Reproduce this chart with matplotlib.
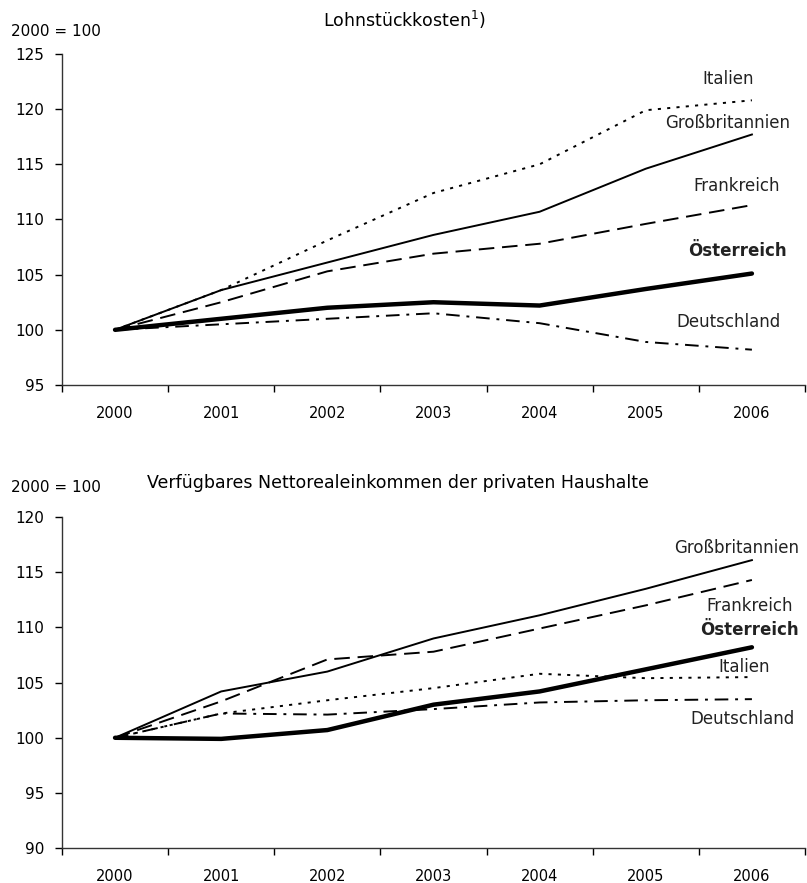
import numpy as np
import matplotlib.pyplot as plt
from matplotlib.ticker import FixedLocator, NullFormatter

plt.rcParams['font.family'] = ['DejaVu Sans']

###########Daten##############

yearList = ['2000', '2001', '2002', '2003', '2004', '2005', '2006']

# Lohnstückkosten, 2000 = 100
lohnItalien = [100, 103.6, 108.1, 112.4, 115.0, 119.9, 120.8]
lohnGB = [100, 103.6, 106.1, 108.6, 110.7, 114.6, 117.7]
lohnFrankreich = [100, 102.5, 105.3, 106.9, 107.8, 109.6, 111.3]
lohnOesterreich = [100, 101.0, 102.0, 102.5, 102.2, 103.7, 105.1]
lohnDeutschland = [100, 100.5, 101.0, 101.5, 100.6, 98.9, 98.2]

# Verfügbares Nettorealeinkommen, 2000 = 100
einkGB = [100, 104.2, 106.0, 109.0, 111.1, 113.5, 116.1]
einkFrankreich = [100, 103.3, 107.1, 107.8, 109.9, 112.0, 114.3]
einkOesterreich = [100, 99.9, 100.7, 103.0, 104.2, 106.2, 108.2]
einkItalien = [100, 102.2, 103.4, 104.5, 105.8, 105.4, 105.5]
einkDeutschland = [100, 102.2, 102.1, 102.6, 103.2, 103.4, 103.5]

###########Linienstile##############

styleDict = {
    'Italien': dict(lw=1.4, dashes=(1.6, 3.2)),
    'Großbritannien': dict(lw=1.4),
    'Frankreich': dict(lw=1.4, dashes=(8, 4)),
    'Österreich': dict(lw=3.2, solid_capstyle='round'),
    'Deutschland': dict(lw=1.4, dashes=(7, 3.5, 1.5, 3.5)),
}

def drawPanel(ax, seriesDict, labelPos, yMin, yMax):
    x = np.arange(len(yearList))
    for name, values in seriesDict.items():
        ax.plot(x, values, color='black', **styleDict[name])
    for name, (lx, ly) in labelPos.items():
        weight = 'bold' if name == 'Österreich' else 'normal'
        ax.text(lx, ly, name, ha='center', va='center', fontsize=12,
                fontweight=weight, color='#222222')
    ax.set_xlim(-0.5, len(yearList) - 0.5)
    ax.set_ylim(yMin, yMax)
    ax.set_yticks(np.arange(yMin, yMax + 1, 5))
    # ticks between the years, labels centred on the years
    ax.xaxis.set_major_locator(FixedLocator(np.arange(-0.5, len(yearList), 1)))
    ax.xaxis.set_major_formatter(NullFormatter())
    ax.xaxis.set_minor_locator(FixedLocator(x))
    ax.set_xticklabels(yearList, minor=True)
    ax.tick_params(axis='x', which='major', length=5, width=1, direction='out')
    ax.tick_params(axis='x', which='minor', length=0, pad=15, labelsize=10.5)
    ax.tick_params(axis='y', length=5, width=1, direction='out', pad=8,
                   labelsize=11)
    for side in ['top', 'right']:
        ax.spines[side].set_visible(False)
    for side in ['left', 'bottom']:
        ax.spines[side].set_linewidth(1)
        ax.spines[side].set_color('#333333')


fig = plt.figure(figsize=(8.07, 8.83), dpi=100)

axTop = fig.add_axes([0.0768, 0.564, 0.9207, 0.3749])
drawPanel(axTop,
          {'Italien': lohnItalien, 'Großbritannien': lohnGB,
           'Frankreich': lohnFrankreich, 'Deutschland': lohnDeutschland,
           'Österreich': lohnOesterreich},
          {'Italien': (5.78, 122.7), 'Großbritannien': (5.77, 118.7),
           'Frankreich': (5.86, 113.0), 'Österreich': (5.86, 107.1),
           'Deutschland': (5.78, 100.7)},
          95, 125)

axBot = fig.add_axes([0.0768, 0.0395, 0.9207, 0.3749])
drawPanel(axBot,
          {'Italien': einkItalien, 'Deutschland': einkDeutschland,
           'Frankreich': einkFrankreich, 'Großbritannien': einkGB,
           'Österreich': einkOesterreich},
          {'Großbritannien': (5.86, 117.2), 'Frankreich': (5.98, 111.9),
           'Österreich': (5.98, 109.8), 'Italien': (5.93, 106.4),
           'Deutschland': (5.91, 101.7)},
          90, 120)

fig.text(56 / 807, 1 - 32 / 883, '2000 = 100', ha='center', va='center',
         fontsize=11)
fig.text(404 / 807, 1 - 20 / 883, 'Lohnstückkosten$^{1}$)', ha='center',
         va='center', fontsize=12.5)
fig.text(56 / 807, 1 - 488 / 883, '2000 = 100', ha='center', va='center',
         fontsize=11)
fig.text(398 / 807, 1 - 483 / 883,
         'Verfügbares Nettorealeinkommen der privaten Haushalte',
         ha='center', va='center', fontsize=12.5)

fig.savefig('out.png', dpi=100)
